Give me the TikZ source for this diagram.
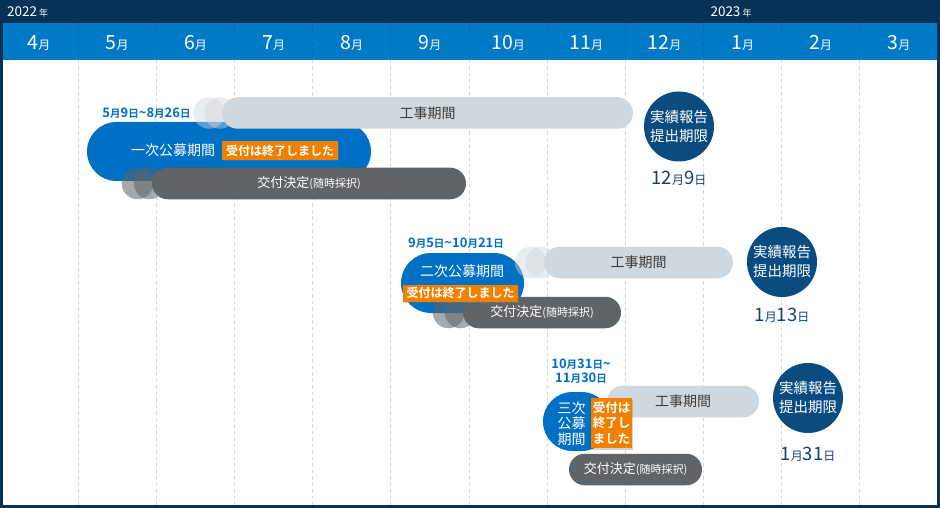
\documentclass[tikz,border=0pt]{standalone}
\usepackage{fontspec}
\setmainfont{Noto Sans CJK JP}[BoldFont={Noto Sans CJK JP Bold}]
\usetikzlibrary{shadows}
\definecolor{navy}{RGB}{6,50,86}
\definecolor{hdrblue}{RGB}{0,122,199}
\definecolor{sepblue}{RGB}{22,98,160}
\definecolor{pillblue}{RGB}{0,112,196}
\definecolor{lightbar}{RGB}{207,216,222}
\definecolor{darkbar}{RGB}{94,100,104}
\definecolor{circnavy}{RGB}{10,75,128}
\definecolor{orangebox}{RGB}{240,128,0}
\definecolor{gridgray}{RGB}{214,214,214}
\definecolor{datenavy}{RGB}{22,62,112}
\definecolor{bartext}{RGB}{60,60,60}
\definecolor{dateblue}{RGB}{0,110,195}
\newcommand\fsz[2]{\fontsize{#1}{#2}\selectfont}
\newcommand\smk[1]{{\fsz{10.5}{11}#1}}
\newcommand\mdk[1]{{\fsz{12}{13}#1}}
\newcommand\monlbl[1]{{\fsz{19.5}{20}#1}{\fsz{12}{12}月}}
\begin{document}
\begin{tikzpicture}[x=1pt,y=-1pt,
  gridline/.style={gridgray,line width=0.9,dash pattern=on 3.5 off 3},
  hdrsep/.style={sepblue,line width=0.9,dash pattern=on 3.5 off 3},
  workbar/.style={fill=lightbar,rounded corners=15.75,inner sep=0,minimum height=31.5,text=bartext,font=\fsz{14}{16}},
  workfade/.style={circle,fill=lightbar,fill opacity=0.45,inner sep=0,minimum size=31.5},
  grantbar/.style={fill=darkbar,rounded corners=15.75,inner sep=0,minimum height=31.5,text=white,font=\fsz{13}{15}},
  grantfade/.style={circle,fill=darkbar,fill opacity=0.55,inner sep=0,minimum size=31.5},
  pill/.style={fill=pillblue,inner sep=0},
  pilltext/.style={text=white,font=\fsz{14}{15.5},align=center,inner sep=0},
  rcpt/.style={fill=orangebox,text=white,font=\bfseries\fsz{12}{15.5},inner sep=0,align=left,
    drop shadow={opacity=0.35,shadow xshift=1.2pt,shadow yshift=-1.5pt}},
  rangelbl/.style={text=dateblue,font=\bfseries\fsz{13}{14},align=center,inner sep=0},
  dlcirc/.style={circle,fill=circnavy,minimum size=70,inner sep=0,text=white,align=center,font=\fsz{14.5}{19}},
  dldate/.style={text=datenavy,font=\fsz{18.5}{19},inner sep=0},
  yearlbl/.style={text=white,font=\fsz{13.5}{14},inner sep=0}
]
\useasboundingbox (0,0) rectangle (940,508);
\fill[white] (0,0) rectangle (940,508);
% header
\fill[navy] (0,0) rectangle (940,23);
\fill[hdrblue] (0,23) rectangle (940,60);
\node[yearlbl,anchor=west] (y22) at (7,12) {2022{\fsz{9}{9} 年}};
\node[yearlbl] (y23) at (731,12) {2023{\fsz{9}{9} 年}};
\foreach \m [count=\i from 0] in {4,5,6,7,8,9,10,11,12,1,2,3}
  \node[text=white,inner sep=0] (m\i) at ({(\i+0.5)*78.17},43) {\monlbl{\m}};
\foreach \i in {1,...,11}{
  \draw[hdrsep] ({\i*78.17},23) -- ({\i*78.17},60);
  \draw[gridline] ({\i*78.17},60) -- ({\i*78.17},505);
}
% blue pills
\node[pill,rounded corners=29.5,minimum width=284,minimum height=59] (p1) at (229,151.5) {};
\node[pill,rounded corners=30,minimum width=123,minimum height=60] (p2) at (462.5,283) {};
% row 3 work bar under the small pill
\node[workbar,minimum width=152] (w3) at (683,401.5) {工事期間};
\node[pill,rounded corners=29.5,minimum width=68,minimum height=59] (p3) at (577,421.5) {};
% work bars
\node[workbar,minimum width=411] (w1) at (427.5,113) {工事期間};
\node[workfade] (w1a) at (209,113) {};
\node[workfade] (w1b) at (220,113) {};
\node[workbar,minimum width=189] (w2) at (638.5,262.5) {工事期間};
\node[workfade] (w2a) at (530.5,262.5) {};
\node[workfade] (w2b) at (541.5,262.5) {};
% grant bars
\node[grantbar,minimum width=314] (g1) at (309,183.5) {交付決定{\fsz{11}{13}(随時採択)}};
\node[grantfade] (g1a) at (137.5,183.5) {};
\node[grantfade] (g1b) at (149.5,183.5) {};
\node[grantbar,minimum width=158] (g2) at (542,312.5) {交付決定{\fsz{11}{13}(随時採択)}};
\node[grantfade] (g2a) at (448.5,312.5) {};
\node[grantfade] (g2b) at (460.5,312.5) {};
\node[grantbar,minimum width=133] (g3) at (635.5,469.5) {交付決定{\fsz{11}{13}(随時採択)}};
% pill texts
\node[pilltext] (t1) at (173,150.5) {一次公募期間};
\node[pilltext] (t2) at (462,271) {二次公募期間};
\node[pilltext] (t3) at (571.5,423.5) {三次\\公募\\期間};
% reception closed boxes
\node[rcpt,minimum width=116,minimum height=19] (r1) at (280,150.5) {受付は終了しました};
\node[rcpt,minimum width=115,minimum height=17] (r2) at (460.5,293) {受付は終了しました};
\node[rcpt,minimum width=41,minimum height=50,font=\bfseries\fsz{12.5}{15.5}] (r3) at (611.5,423) {受付は\\終了し\\ました};
% application period labels
\node[rangelbl] (l1) at (146.5,113) {5\smk{月}9\smk{日}\textasciitilde 8\smk{月}26\smk{日}};
\node[rangelbl] (l2) at (456,243) {9\smk{月}5\smk{日}\textasciitilde 10\smk{月}21\smk{日}};
\node[rangelbl] (l3) at (581,371) {10\smk{月}31\smk{日}\textasciitilde\\11\smk{月}30\smk{日}};
% deadlines
\node[dlcirc] (d1) at (679,126.5) {実績報告\\提出期限};
\node[dldate] (dd1) at (679,178) {12\mdk{月}9\mdk{日}};
\node[dlcirc] (d2) at (782,262) {実績報告\\提出期限};
\node[dldate] (dd2) at (782,315) {1\mdk{月}13\mdk{日}};
\node[dlcirc] (d3) at (808,398) {実績報告\\提出期限};
\node[dldate] (dd3) at (808,454) {1\mdk{月}31\mdk{日}};
% frame
\draw[navy,line width=3] (1.5,1.5) rectangle (938.5,506.5);
\end{tikzpicture}
\end{document}
